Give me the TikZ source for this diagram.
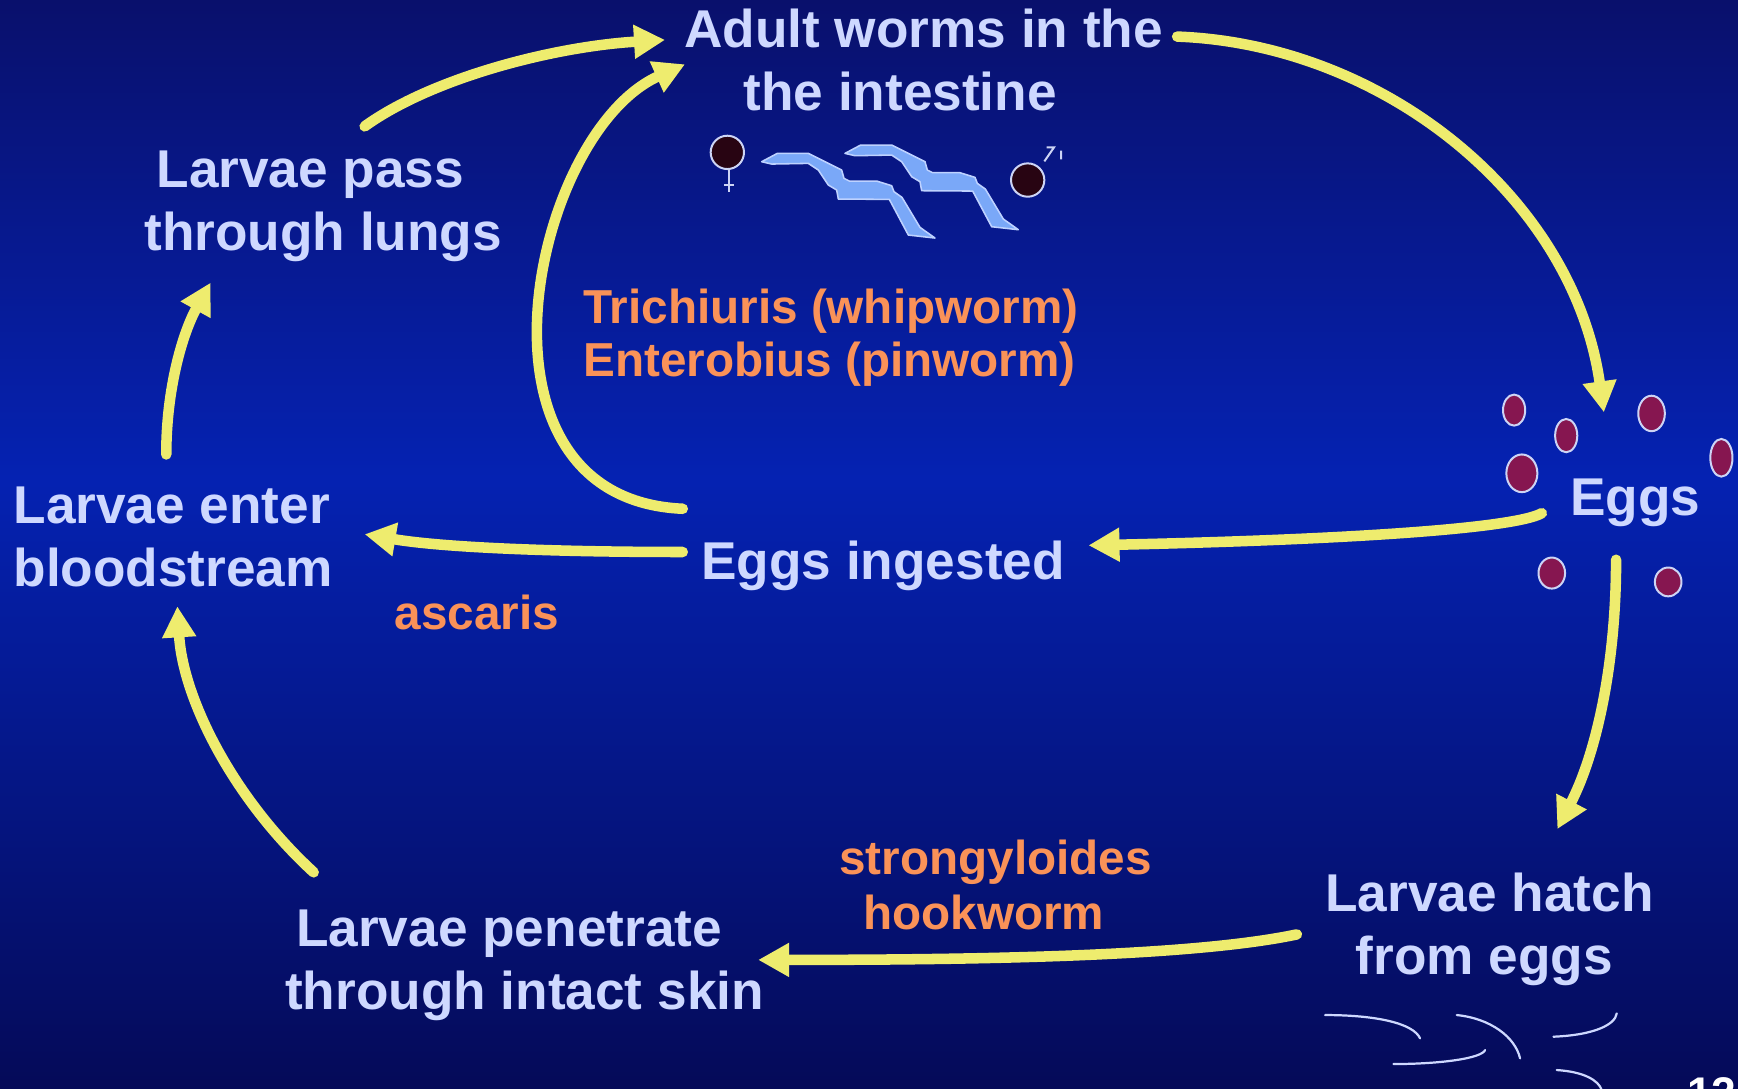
\documentclass[tikz,border=0pt]{standalone}
\usepackage{fontspec}
\setmainfont{Liberation Sans}
\usetikzlibrary{arrows.meta}

\definecolor{bgtop}{RGB}{9,16,108}
\definecolor{bgmid}{RGB}{5,34,178}
\definecolor{bgbot}{RGB}{5,10,88}
\definecolor{txt}{RGB}{206,216,255}
\definecolor{orng}{RGB}{250,146,88}
\definecolor{ylw}{RGB}{238,236,110}
\definecolor{eggfill}{RGB}{134,22,80}
\definecolor{eggrim}{RGB}{205,212,245}
\definecolor{wormfill}{RGB}{122,168,248}
\definecolor{wormrim}{RGB}{190,210,255}
\definecolor{sexfill}{RGB}{40,4,18}

% rows of a label, first baseline is the node baseline
\newcommand\txtrows[1]{\begin{tabular}[t]{@{}l@{}}#1\end{tabular}}

\begin{document}
\begin{tikzpicture}[x=1pt,y=-1pt,
  stage/.style={inner sep=0pt, anchor=base west, text=txt,
    font=\bfseries\fontsize{48}{57}\selectfont},
  note/.style={inner sep=0pt, anchor=base west, text=orng,
    font=\bfseries\fontsize{43}{47.5}\selectfont},
  flow/.style={draw=ylw, line width=9.5pt, line cap=round,
    -{Triangle[length=28pt,width=29pt]}},
  egg/.style={fill=eggfill, draw=eggrim, line width=1.8pt},
  worm/.style={fill=wormfill, draw=wormrim, line width=1.4pt, line join=round},
  sexsign/.style={draw=eggrim, line width=1.8pt},
  larva/.style={draw=txt, line width=2pt, line cap=round}]

\useasboundingbox (0,0) rectangle (1568,982);
\clip (0,0) rectangle (1568,982);

% background
\shade[top color=bgtop, bottom color=bgmid] (0,0) rectangle (1568,431);
\shade[top color=bgmid, bottom color=bgbot] (0,430) rectangle (1568,982);

% stage labels
\node[stage] (adult) at (617,43) {\txtrows{Adult worms in the\\\hspace*{53.6pt}the intestine}};
\node[stage] (lungs) at (130,169) {\txtrows{\hspace*{11pt}Larvae pass\\through lungs}};
\node[stage] (blood) at (12,472) {\txtrows{Larvae enter\\bloodstream}};
\node[stage] (ingested) at (632.5,523) {Eggs ingested};
\node[stage] (eggs) at (1416.5,465) {Eggs};
\node[stage] (hatch) at (1195.5,822) {\txtrows{Larvae hatch\\\hspace*{27.5pt}from eggs}};
\node[stage] (skin) at (257,854) {\txtrows{\hspace*{10pt}Larvae penetrate\\through intact skin}};

% species notes
\node[note] (whip) at (526,292) {\txtrows{Trichiuris (whipworm)\\Enterobius (pinworm)}};
\node[note] (ascaris) at (356,568) {ascaris};
\node[note, font=\bfseries\fontsize{43}{50}\selectfont] (strongy) at (757,789)
  {\txtrows{strongyloides\\\hspace*{21.5pt}hookworm}};

% slide number
\node[inner sep=0pt, anchor=base west, text=white,
  font=\bfseries\fontsize{40}{48}\selectfont] (pageno) at (1522,1000) {12};

% adult worms with sex symbols
\begin{scope}[shift={(622.5,108.3)}, scale=0.30073]
  \draw[worm] (215,125) -- (262,100) -- (355,100) -- (455,150) -- (462,175)
    -- (478,183) -- (560,183) -- (605,197) -- (612,215) -- (636,232)
    -- (690,322) -- (735,354) -- (655,345) -- (598,238) -- (445,237)
    -- (440,210) -- (415,195) -- (385,150) -- (355,130) -- (245,132) -- cycle;
  \draw[worm] (465,100) -- (512,75) -- (605,75) -- (705,125) -- (712,150)
    -- (728,158) -- (810,158) -- (855,172) -- (862,190) -- (886,207)
    -- (940,297) -- (985,329) -- (905,320) -- (848,213) -- (695,212)
    -- (690,185) -- (665,170) -- (635,125) -- (605,105) -- (495,107) -- cycle;
  % female
  \draw[sexsign, fill=sexfill] (112,97) circle[radius=50];
  \draw[sexsign] (117,150) -- (117,215) (102,195) -- (132,195);
  % male
  \draw[sexsign, fill=sexfill] (1013,180) circle[radius=50];
  \draw[sexsign] (1070,82) -- (1092,82) -- (1063,124) (1113,92) -- (1113,118);
\end{scope}

% eggs
\foreach \ex/\ey/\rx/\ry in {1366/370/10/14, 1413/393/10/15, 1490/373/12/16,
    1553/413/10/17, 1373/427/14/17, 1400/517/12/14, 1505/525/12/13}
  \draw[egg] (\ex,\ey) ellipse[x radius=\rx, y radius=\ry];

% hatched larvae
\begin{scope}[shift={(1172.9,893.2)}, scale=0.30073]
  \draw[larva] (75,75) .. controls (230,75) and (340,100) .. (360,145);
  \draw[larva] (470,75) .. controls (570,85) and (645,140) .. (660,205);
  \draw[larva] (280,222) .. controls (420,222) and (545,205) .. (555,180);
  \draw[larva] (760,140) .. controls (880,135) and (945,105) .. (950,70);
  \draw[larva] (770,240) .. controls (850,245) and (895,270) .. (905,300);
\end{scope}

% life-cycle arrows
\draw[flow] ([shift={(199,-55)}]lungs.base west) .. controls +(61,-44) and +(-100,6)
  .. ([shift={(-17,-7)}]adult.base west);
\draw[flow] ([shift={(-16.5,-64)}]ingested.base west) .. controls +(-206,-9) and +(-138,62)
  .. ([shift={(1,15)}]adult.base west);
\draw[flow] ([shift={(445,-10)}]adult.base west) .. controls +(188,7) and +(-27,-192)
  .. ([shift={(30.5,-93)}]eggs.base west);
\draw[flow] ([shift={(-25.5,-2)}]eggs.base west) .. controls +(-25,14) and +(230,-5)
  .. ([shift={(349.5,-31)}]ingested.base west);
\draw[flow] ([shift={(41.5,40)}]eggs.base west) .. controls +(0,95) and +(35,-68)
  .. ([shift={(209.5,-74)}]hatch.base west);
\draw[flow] ([shift={(-25.5,21)}]hatch.base west) .. controls +(-90,19) and +(216,0)
  .. ([shift={(427,12)}]skin.base west);
\draw[flow] ([shift={(26,-67)}]skin.base west) .. controls +(-73,-67) and +(5,83)
  .. ([shift={(148,75)}]blood.base west);
\draw[flow] ([shift={(138,-62)}]blood.base west) .. controls +(0,-60) and +(-25,45)
  .. ([shift={(60,86)}]lungs.base west);
\draw[flow] ([shift={(-16.5,-25)}]ingested.base west) .. controls +(-116,0) and +(71,12)
  .. ([shift={(317,10)}]blood.base west);

\end{tikzpicture}
\end{document}
